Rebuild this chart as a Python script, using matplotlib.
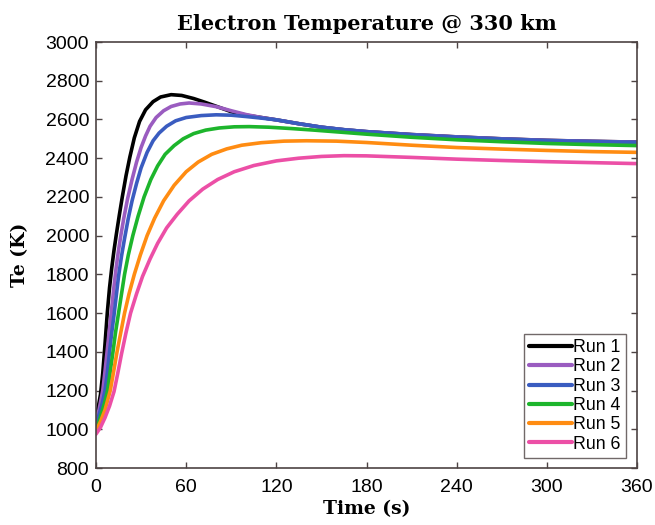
import matplotlib
matplotlib.use("Agg")
import matplotlib.pyplot as plt

# ---- data ----
run_labels = ["Run 1", "Run 2", "Run 3", "Run 4", "Run 5", "Run 6"]
run_colors = ["#000000", "#9a5cc0", "#3a5cc0", "#1db52c", "#ff8c12", "#ec4fa6"]

t_run1 = [0, 1.5, 3, 4.5, 6, 7.5, 9, 10.5, 12, 13.5, 15.5, 17.5, 20, 22.5, 25.5, 29, 33, 38, 43, 50,
          57, 65, 72, 80, 90, 100, 110, 120, 135, 150, 165, 180, 210, 240, 270, 300, 330, 360]
k_run1 = [1075, 1115, 1180, 1290, 1440, 1600, 1730, 1835, 1925, 2005, 2105, 2200, 2310, 2405, 2505, 2590, 2650, 2692, 2716, 2728,
          2724, 2708, 2690, 2668, 2640, 2622, 2610, 2598, 2578, 2560, 2547, 2537, 2522, 2510, 2500, 2492, 2487, 2483]

t_run2 = [0, 2, 4.5, 6, 7.5, 9, 10.5, 12, 13.5, 15, 16.5, 18.5, 21, 24, 27, 30, 33, 36, 40, 45, 50, 56, 62,
          70, 80, 90, 100, 110, 120, 135, 150, 165, 180, 210, 240, 270, 300, 330, 360]
k_run2 = [1052, 1100, 1200, 1300, 1410, 1520, 1630, 1740, 1840, 1925, 2000, 2090, 2190, 2290, 2380, 2455, 2515, 2565, 2610, 2645, 2667, 2680, 2685,
          2680, 2666, 2645, 2625, 2610, 2598, 2578, 2560, 2547, 2537, 2522, 2510, 2500, 2492, 2487, 2483]

t_run3 = [0, 2, 4, 6, 7.5, 9, 10.5, 12, 13.5, 15, 17, 19, 21.5, 24, 27, 30, 34, 38, 42, 47, 53, 60,
          70, 80, 90, 100, 110, 120, 135, 150, 165, 180, 210, 240, 270, 300, 330, 360]
k_run3 = [1030, 1075, 1130, 1200, 1290, 1400, 1500, 1590, 1690, 1790, 1895, 1985, 2090, 2180, 2270, 2350, 2430, 2490, 2530, 2565, 2593, 2610,
          2620, 2624, 2622, 2615, 2607, 2598, 2578, 2560, 2547, 2537, 2521, 2509, 2499, 2491, 2486, 2482]

t_run4 = [0, 2, 4, 6, 7.7, 9.5, 11.3, 13, 15, 17, 19, 21.5, 24.5, 28, 32, 36.5, 41, 46, 52, 58, 65, 73,
          82, 92, 102, 115, 130, 145, 160, 180, 210, 240, 270, 300, 330, 360]
k_run4 = [1005, 1040, 1090, 1145, 1200, 1300, 1400, 1500, 1600, 1700, 1800, 1900, 2000, 2100, 2200, 2290, 2360, 2420, 2465, 2500, 2527, 2545,
          2556, 2562, 2563, 2560, 2553, 2545, 2536, 2524, 2508, 2495, 2485, 2476, 2470, 2465]

t_run5 = [0, 3, 6, 9.5, 12, 14, 16.5, 19, 22, 25.5, 29.5, 34, 39, 45, 52, 60, 68, 77, 87, 97,
          110, 125, 140, 160, 180, 210, 240, 270, 300, 330, 360]
k_run5 = [990, 1040, 1100, 1200, 1310, 1400, 1500, 1600, 1700, 1800, 1900, 2000, 2090, 2180, 2260, 2330, 2380, 2420, 2448, 2467,
          2480, 2488, 2490, 2488, 2481, 2467, 2455, 2447, 2440, 2434, 2430]

t_run6 = [0, 3, 6, 9, 12, 14.5, 17, 20, 23, 27, 31, 36, 41, 47, 54, 62, 71, 81, 92, 105,
          120, 135, 150, 165, 180, 210, 240, 270, 300, 330, 360]
k_run6 = [975, 1010, 1060, 1120, 1195, 1290, 1390, 1500, 1600, 1700, 1790, 1880, 1960, 2040, 2110, 2180, 2240, 2290, 2330, 2362,
          2386, 2400, 2409, 2413, 2412, 2404, 2395, 2388, 2382, 2377, 2372]

x_ticks = [0, 60, 120, 180, 240, 300, 360]
y_ticks = [800, 1000, 1200, 1400, 1600, 1800, 2000, 2200, 2400, 2600, 2800, 3000]

title_text = "Electron Temperature @ 330 km"
x_label = "Time (s)"
y_label = "Te (K)"

# ---- drawing ----
spine_col = "#4d4343"
fig = plt.figure(figsize=(6.55, 5.25), dpi=100)
ax = fig.add_axes([96 / 655, 1 - 468 / 525, (637 - 96) / 655, (468 - 42) / 525])

series = [(t_run1, k_run1), (t_run2, k_run2), (t_run3, k_run3),
          (t_run4, k_run4), (t_run5, k_run5), (t_run6, k_run6)]
for (t, k), lab, col in zip(series, run_labels, run_colors):
    ax.plot(t, k, color=col, lw=2.6, label=lab, solid_capstyle="round", solid_joinstyle="round")

ax.set_xlim(0, 360)
ax.set_ylim(800, 3000)
ax.set_xticks(x_ticks)
ax.set_yticks(y_ticks)
ax.tick_params(direction="in", top=True, right=True, length=4, width=1,
               color=spine_col, labelsize=14)
ax.tick_params(axis="x", pad=8)
ax.tick_params(axis="y", pad=5)
for lbl in ax.get_xticklabels() + ax.get_yticklabels():
    lbl.set_family("Liberation Sans")
for s in ax.spines.values():
    s.set_color(spine_col)
    s.set_linewidth(1.2)

serif = ["DejaVu Serif"]
ax.set_title(title_text, fontsize=15, fontweight="bold", family=serif, pad=9)
ax.set_xlabel(x_label, fontsize=13.5, fontweight="bold", family=serif, labelpad=3)
ax.set_ylabel(y_label, fontsize=13.5, fontweight="bold", family=serif, labelpad=12)

leg = ax.legend(loc="lower right", bbox_to_anchor=((626 - 96) / 541, 10 / 426), frameon=True, fancybox=False,
                handlelength=2.4, handletextpad=0.1, borderpad=0.3, labelspacing=0.13,
                prop={"family": "Liberation Sans", "size": 12.8}, borderaxespad=0)
leg.get_frame().set_edgecolor(spine_col)
leg.get_frame().set_linewidth(1.0)
for h in leg.get_lines():
    h.set_linewidth(3)

fig.savefig("out.png", dpi=100)
